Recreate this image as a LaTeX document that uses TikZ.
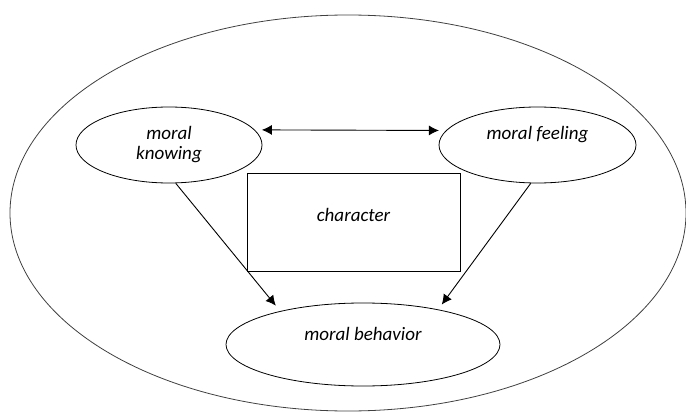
\documentclass[tikz,border=0pt]{standalone}
\usepackage{fontspec}
\setmainfont{Carlito}
\usetikzlibrary{shapes.geometric,arrows.meta}

\tikzset{
  oval/.style={ellipse, draw, line width=0.8pt, inner sep=0pt, align=center},
  link/.style={-{Latex[length=10pt,width=10pt]}, line width=0.9pt}
}

\begin{document}
\begin{tikzpicture}[x=1pt,y=-1pt,font=\fontsize{19}{20}\selectfont\itshape]
\useasboundingbox (0,0) rectangle (686,412);
\node[ellipse, draw=black!75, line width=0.8pt, minimum width=676pt, minimum height=396pt] (whole) at (348,213) {};
\node[oval, minimum width=186pt, minimum height=76pt] (knowing) at (169,145) {moral\\knowing};
\node[oval, minimum width=197pt, minimum height=76pt, label={[yshift=10pt]center:moral feeling}] (feeling) at (537.5,145) {};
\node[draw, line width=0.8pt, minimum width=213pt, minimum height=98pt, label={[yshift=7pt]center:character}] (character) at (353.5,222) {};
\node[oval, minimum width=274pt, minimum height=83pt, label={[yshift=11pt]center:moral behavior}] (behavior) at (363,344.5) {};
\draw[{Latex[length=10pt,width=10pt]}-{Latex[length=10pt,width=10pt]}, line width=0.9pt, shorten <=7pt, shorten >=7pt] (knowing.10) -- (feeling.171);
\draw[link, shorten >=7pt] (knowing.280) -- (behavior.158);
\draw[link, shorten >=6pt] (feeling.260) -- (behavior.25);
\end{tikzpicture}
\end{document}
